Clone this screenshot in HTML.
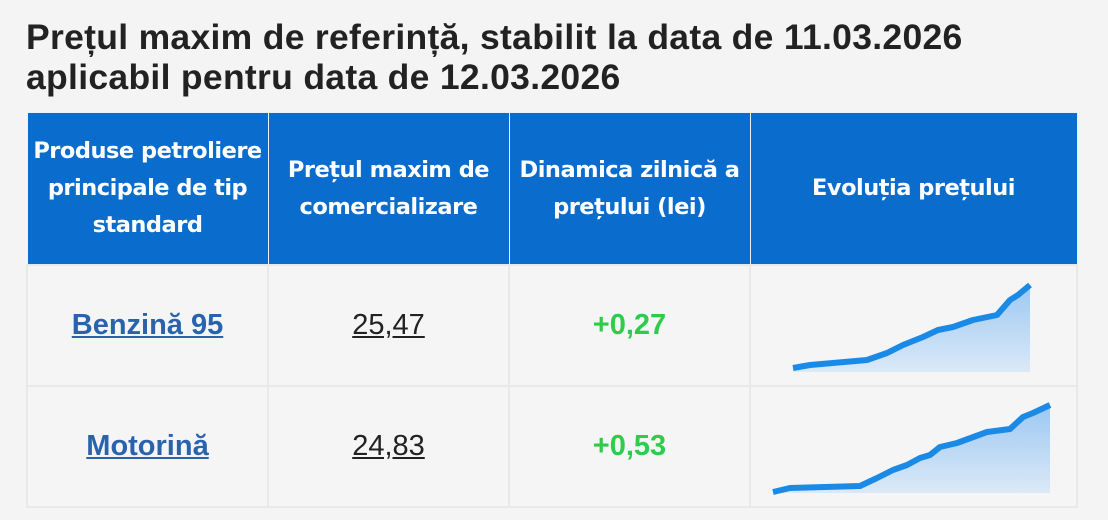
<!DOCTYPE html>
<html><head><meta charset="utf-8"><style>
body{margin:0;width:1108px;height:520px;background:#f4f4f4;font-family:"Liberation Sans","DejaVu Sans",sans-serif;position:relative;overflow:hidden}
h1{position:absolute;left:26px;top:17px;margin:0;font-size:35.5px;line-height:40px;font-weight:bold;color:#222;white-space:nowrap;letter-spacing:0.3px}
table{position:absolute;left:26px;top:112px;border-collapse:collapse;width:1052px}
th{background:#0a6ccd;color:#fff;font-family:"DejaVu Sans",sans-serif;font-weight:bold;font-size:22.5px;line-height:37px;height:151px;padding:0;border:1px solid #e8f2fb;text-align:center;letter-spacing:-0.5px}
td{background:#f5f5f5;border:2px solid #e9e9e9;height:119px;text-align:center;font-size:29px;padding:0}
a{color:#2a63ad;font-weight:bold;text-decoration:underline}
.p{color:#222;text-decoration:underline}
.g{color:#2ecc4a;font-weight:bold}
</style></head><body>
<h1>Prețul maxim de referință, stabilit la data de 11.03.2026<br>aplicabil pentru data de 12.03.2026</h1>
<table>
<tr><th style="width:240px">Produse petroliere principale de tip standard</th><th style="width:240px">Prețul maxim de comercializare</th><th style="width:240px">Dinamica zilnică a prețului (lei)</th><th>Evoluția prețului</th></tr>
<tr><td><a>Benzină 95</a></td><td><span class="p">25,47</span></td><td class="g">+0,27</td><td></td></tr>
<tr><td><a>Motorină</a></td><td><span class="p">24,83</span></td><td class="g">+0,53</td><td></td></tr>
</table>
<svg width="1108" height="520" style="position:absolute;left:0;top:0">
<defs><linearGradient id="gr" x1="0" y1="0" x2="0" y2="1"><stop offset="0" stop-color="#9cc8f2"/><stop offset="1" stop-color="#dbe9f7"/></linearGradient></defs>
<path d="M793,368 L810,365 L867,360 L887,353 L903,345 L923,337 L938,330 L953,327 L973,320 L997,315 L1010,300 L1018,295 L1030,285 L1030,372 L793,372Z" fill="url(#gr)"/>
<polyline points="793,368 810,365 867,360 887,353 903,345 923,337 938,330 953,327 973,320 997,315 1010,300 1018,295 1030,285" fill="none" stroke="#1a8ae6" stroke-width="6" stroke-linejoin="round"/>
<path d="M773,492 L790,488 L860,486 L877,478 L893,470 L907,465 L920,458 L930,455 L940,447 L957,443 L987,432 L1010,429 L1023,417 L1033,413 L1050,405 L1050,493 L773,493Z" fill="url(#gr)"/>
<polyline points="773,492 790,488 860,486 877,478 893,470 907,465 920,458 930,455 940,447 957,443 987,432 1010,429 1023,417 1033,413 1050,405" fill="none" stroke="#1a8ae6" stroke-width="6" stroke-linejoin="round"/>
</svg>
</body></html>
